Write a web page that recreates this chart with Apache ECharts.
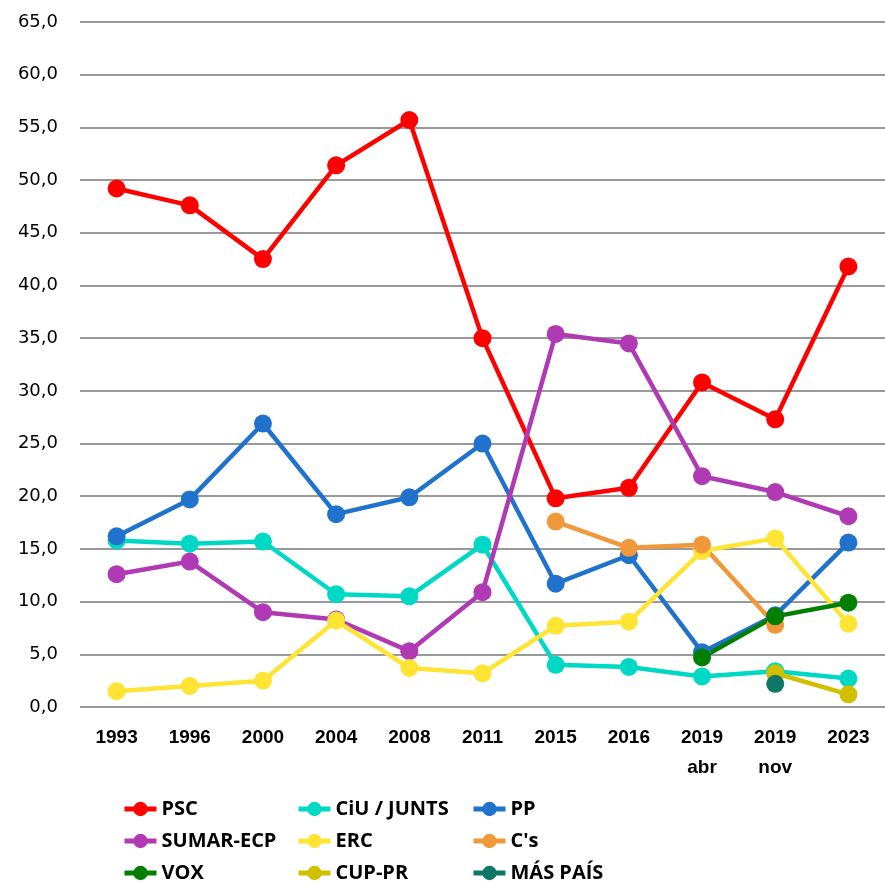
<!DOCTYPE html>
<html>
<head>
<meta charset="utf-8">
<script src="https://cdn.jsdelivr.net/npm/echarts@6/dist/echarts.min.js"></script>
<style>
  html, body { margin: 0; padding: 0; background: #fff; }
  #main { width: 885px; height: 884px; }
</style>
</head>
<body>
<div id="main"></div>
<script>
// categorías (año de elecciones)
var years = ['1993', '1996', '2000', '2004', '2008', '2011', '2015', '2016', '2019\nabr', '2019\nnov', '2023']

// % de voto por partido
var psc = [49.2, 47.6, 42.5, 51.4, 55.7, 35.0, 19.8, 20.8, 30.8, 27.3, 41.8]
var ciu = [15.8, 15.5, 15.7, 10.7, 10.5, 15.4, 4.0, 3.8, 2.9, 3.4, 2.7]
var pp = [16.2, 19.7, 26.9, 18.3, 19.9, 25.0, 11.7, 14.4, 5.2, 8.7, 15.6]
var sumar = [12.6, 13.8, 9.0, 8.3, 5.3, 10.9, 35.4, 34.5, 21.9, 20.4, 18.1]
var erc = [1.5, 2.0, 2.5, 8.2, 3.7, 3.2, 7.7, 8.1, 14.8, 16.0, 7.9]
var cs = [null, null, null, null, null, null, 17.6, 15.1, 15.4, 7.8, null]
var vox = [null, null, null, null, null, null, null, null, 4.7, 8.6, 9.9]
var cup = [null, null, null, null, null, null, null, null, null, 3.2, 1.2]
var masPais = [null, null, null, null, null, null, null, null, null, 2.2, null]

var myChart = echarts.init(document.getElementById('main'))

function serie(name, data, color) {
  return {
    name: name,
    type: 'line',
    data: data,
    symbol: 'circle',
    symbolSize: 18,
    animation: false,
    itemStyle: { color: color },
    lineStyle: { width: 4.5, color: color }
  }
}

var legendText = { fontFamily: 'Liberation Sans Narrow, Open Sans, sans-serif', fontWeight: 'bold', fontSize: 20, color: '#000' }
function legendCol(left, names) {
  return {
    orient: 'vertical',
    left: left,
    top: 794,
    height: 120,
    itemGap: 12,
    itemWidth: 32,
    itemHeight: 18,
    lineStyle: { width: 5 },
    textStyle: legendText,
    data: names
  }
}

var option = {
  backgroundColor: '#fff',
  grid: { left: 80, right: 0, top: 22, bottom: 177 },
  legend: [
    legendCol(117, ['PSC', 'SUMAR-ECP', 'VOX']),
    legendCol(291, ['CiU / JUNTS', 'ERC', 'CUP-PR']),
    legendCol(466, ['PP', "C's", 'MÁS PAÍS'])
  ],
  xAxis: {
    type: 'category',
    data: years,
    axisLine: { show: false },
    axisTick: { show: false },
    axisLabel: {
      margin: 16,
      fontFamily: 'Liberation Sans, sans-serif',
      fontWeight: 'bold',
      fontSize: 19,
      color: '#000',
      lineHeight: 30
    }
  },
  yAxis: {
    type: 'value',
    min: 0,
    max: 65,
    interval: 5,
    axisLine: { show: false },
    axisTick: { show: false },
    splitLine: { lineStyle: { color: '#999', width: 2 } },
    axisLabel: {
      margin: 22,
      fontFamily: 'DejaVu Sans, sans-serif',
      fontSize: 18,
      color: '#000',
      formatter: function (v) { return v.toFixed(1).replace('.', ',') }
    }
  },
  series: [
    serie('PSC', psc, '#ff0000'),
    serie('CiU / JUNTS', ciu, '#00d8c6'),
    serie('PP', pp, '#2072cc'),
    serie('SUMAR-ECP', sumar, '#b03ab4'),
    serie('ERC', erc, '#ffe433'),
    serie("C's", cs, '#f0993a'),
    serie('VOX', vox, '#007f00'),
    serie('CUP-PR', cup, '#d2c000'),
    serie('MÁS PAÍS', masPais, '#0e7866')
  ]
}

myChart.setOption(option)
</script>
</body>
</html>
